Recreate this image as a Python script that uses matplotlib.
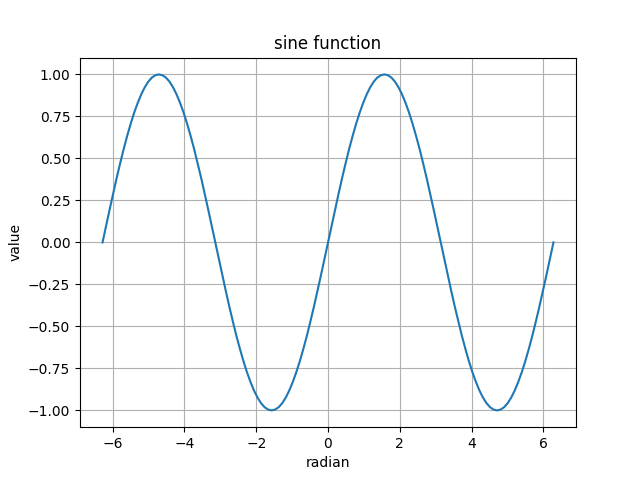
import matplotlib
matplotlib.use("Agg")
import matplotlib.pyplot as plt

# values
radian = [-6.283, -6.185, -6.087, -5.989, -5.890, -5.792, -5.694, -5.596,
          -5.498, -5.400, -5.301, -5.203, -5.105, -5.007, -4.909, -4.811,
          -4.712, -4.614, -4.516, -4.418, -4.320, -4.222, -4.123, -4.025,
          -3.927, -3.829, -3.731, -3.633, -3.534, -3.436, -3.338, -3.240,
          -3.142, -3.043, -2.945, -2.847, -2.749, -2.651, -2.553, -2.454,
          -2.356, -2.258, -2.160, -2.062, -1.963, -1.865, -1.767, -1.669,
          -1.571, -1.473, -1.374, -1.276, -1.178, -1.080, -0.982, -0.884,
          -0.785, -0.687, -0.589, -0.491, -0.393, -0.295, -0.196, -0.098,
          0.000, 0.098, 0.196, 0.295, 0.393, 0.491, 0.589, 0.687,
          0.785, 0.884, 0.982, 1.080, 1.178, 1.276, 1.374, 1.473,
          1.571, 1.669, 1.767, 1.865, 1.963, 2.062, 2.160, 2.258,
          2.356, 2.454, 2.553, 2.651, 2.749, 2.847, 2.945, 3.043,
          3.142, 3.240, 3.338, 3.436, 3.534, 3.633, 3.731, 3.829,
          3.927, 4.025, 4.123, 4.222, 4.320, 4.418, 4.516, 4.614,
          4.712, 4.811, 4.909, 5.007, 5.105, 5.203, 5.301, 5.400,
          5.498, 5.596, 5.694, 5.792, 5.890, 5.989, 6.087, 6.185, 6.283]

value = [0.000, 0.098, 0.195, 0.290, 0.383, 0.471, 0.556, 0.634,
         0.707, 0.773, 0.831, 0.882, 0.924, 0.957, 0.981, 0.995,
         1.000, 0.995, 0.981, 0.957, 0.924, 0.882, 0.831, 0.773,
         0.707, 0.634, 0.556, 0.471, 0.383, 0.290, 0.195, 0.098,
         0.000, -0.098, -0.195, -0.290, -0.383, -0.471, -0.556, -0.634,
         -0.707, -0.773, -0.831, -0.882, -0.924, -0.957, -0.981, -0.995,
         -1.000, -0.995, -0.981, -0.957, -0.924, -0.882, -0.831, -0.773,
         -0.707, -0.634, -0.556, -0.471, -0.383, -0.290, -0.195, -0.098,
         0.000, 0.098, 0.195, 0.290, 0.383, 0.471, 0.556, 0.634,
         0.707, 0.773, 0.831, 0.882, 0.924, 0.957, 0.981, 0.995,
         1.000, 0.995, 0.981, 0.957, 0.924, 0.882, 0.831, 0.773,
         0.707, 0.634, 0.556, 0.471, 0.383, 0.290, 0.195, 0.098,
         0.000, -0.098, -0.195, -0.290, -0.383, -0.471, -0.556, -0.634,
         -0.707, -0.773, -0.831, -0.882, -0.924, -0.957, -0.981, -0.995,
         -1.000, -0.995, -0.981, -0.957, -0.924, -0.882, -0.831, -0.773,
         -0.707, -0.634, -0.556, -0.471, -0.383, -0.290, -0.195, -0.098, 0.000]


def main():
    plt.figure(figsize=(6.4, 4.8), dpi=100)
    plt.plot(radian, value)
    plt.title("sine function")
    plt.xlabel("radian")
    plt.ylabel("value")
    plt.grid(True)
    plt.savefig("out.png", dpi=100)


if __name__ == '__main__':
    main()
